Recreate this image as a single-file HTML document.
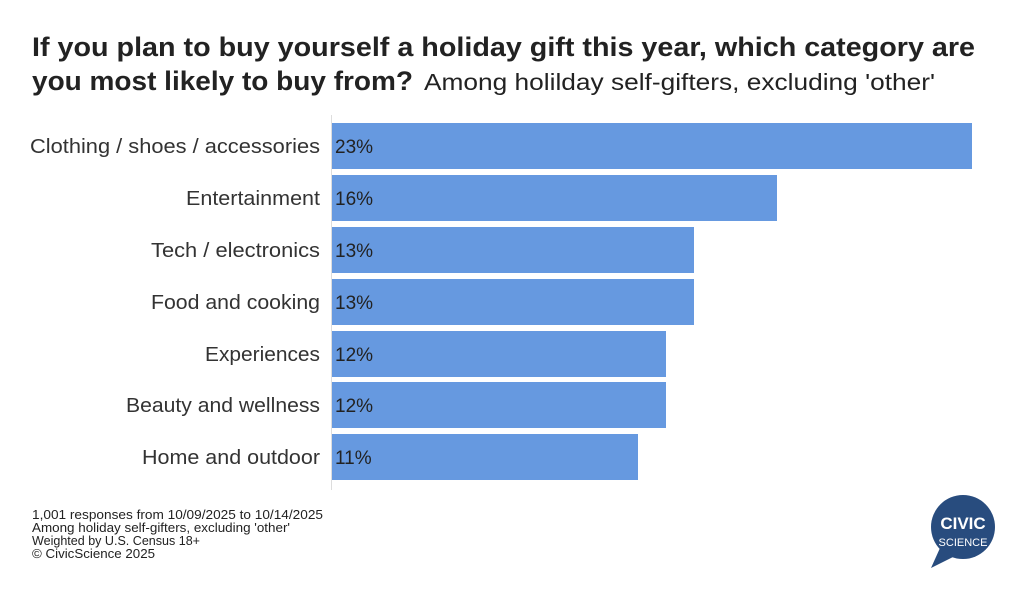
<!DOCTYPE html>
<html><head><style>
body{margin:0;background:#fff;width:1024px;height:591px;overflow:hidden;font-family:"Liberation Sans",sans-serif}
</style></head><body>
<svg width="1024" height="591" xmlns="http://www.w3.org/2000/svg" font-family="Liberation Sans, sans-serif">
<text x="32" y="56" font-size="27" font-weight="bold" fill="#222" textLength="943" lengthAdjust="spacingAndGlyphs">If you plan to buy yourself a holiday gift this year, which category are</text>
<text x="32" y="90" font-size="27" font-weight="bold" fill="#222" textLength="381" lengthAdjust="spacingAndGlyphs">you most likely to buy from?</text>
<text x="424" y="90" font-size="23" fill="#222" textLength="511" lengthAdjust="spacingAndGlyphs">Among holilday self-gifters, excluding 'other'</text>
<line x1="331.5" y1="115" x2="331.5" y2="490" stroke="#ddd" stroke-width="1"/>
<g fill="#6699e0">
<rect x="332" y="123" width="640" height="46"/>
<rect x="332" y="175" width="445" height="46"/>
<rect x="332" y="227" width="362" height="46"/>
<rect x="332" y="279" width="362" height="46"/>
<rect x="332" y="331" width="334" height="46"/>
<rect x="332" y="382" width="334" height="46"/>
<rect x="332" y="434" width="306" height="46"/>
</g>
<g font-size="19" fill="#222">
<text x="335" y="153">23%</text><text x="335" y="205">16%</text><text x="335" y="257">13%</text><text x="335" y="309">13%</text><text x="335" y="361">12%</text><text x="335" y="412">12%</text><text x="335" y="464">11%</text>
</g>
<g font-size="20.5" fill="#333" text-anchor="end" lengthAdjust="spacingAndGlyphs">
<text x="320" y="153" textLength="290" lengthAdjust="spacingAndGlyphs">Clothing / shoes / accessories</text>
<text x="320" y="205" textLength="134" lengthAdjust="spacingAndGlyphs">Entertainment</text>
<text x="320" y="257" textLength="169" lengthAdjust="spacingAndGlyphs">Tech / electronics</text>
<text x="320" y="309" textLength="169" lengthAdjust="spacingAndGlyphs">Food and cooking</text>
<text x="320" y="361" textLength="115" lengthAdjust="spacingAndGlyphs">Experiences</text>
<text x="320" y="412" textLength="194" lengthAdjust="spacingAndGlyphs">Beauty and wellness</text>
<text x="320" y="464" textLength="178" lengthAdjust="spacingAndGlyphs">Home and outdoor</text>
</g>
<g font-size="12.5" fill="#222">
<text x="32" y="519" textLength="291" lengthAdjust="spacingAndGlyphs">1,001 responses from 10/09/2025 to 10/14/2025</text>
<text x="32" y="532" textLength="258" lengthAdjust="spacingAndGlyphs">Among holiday self-gifters, excluding 'other'</text>
<text x="32" y="545" textLength="168" lengthAdjust="spacingAndGlyphs">Weighted by U.S. Census 18+</text>
<text x="32" y="558" textLength="123" lengthAdjust="spacingAndGlyphs">© CivicScience 2025</text>
</g>
<circle cx="963" cy="527" r="32" fill="#284c7e"/>
<path d="M940 548 L931 568 L955 556 Z" fill="#284c7e"/>
<text x="963" y="529" font-size="17" font-weight="bold" fill="#fff" text-anchor="middle">CIVIC</text>
<text x="963" y="546" font-size="11" fill="#fff" text-anchor="middle">SCIENCE</text>
</svg>
</body></html>
